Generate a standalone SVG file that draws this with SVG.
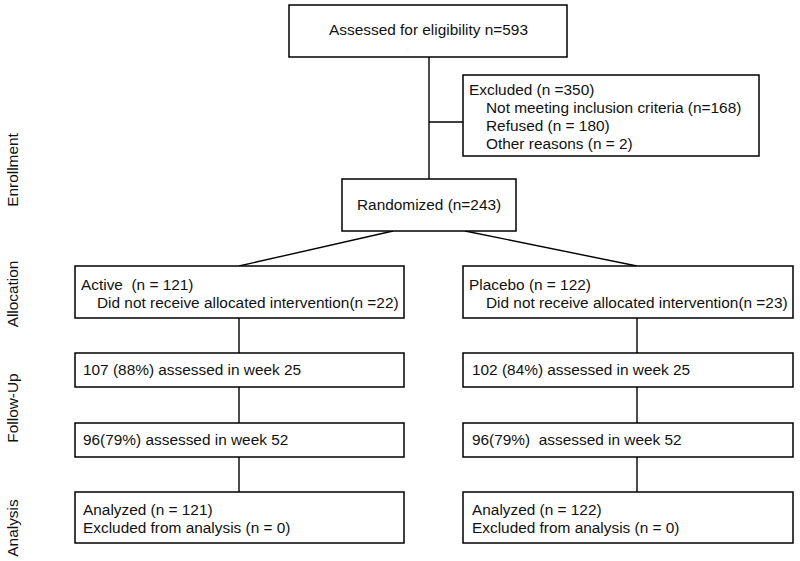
<svg xmlns="http://www.w3.org/2000/svg" width="800" height="561" viewBox="0 0 800 561">
<style>
.box{fill:#fff;stroke:#000;stroke-width:1.5}
.ln{stroke:#000;stroke-width:1.4;fill:none}
text{font-family:"Liberation Sans",Arial,sans-serif;font-size:15.4px;fill:#111}
.side{text-anchor:middle}
</style>
<rect width="800" height="561" fill="#fff"/>
<g id="connectors">
<line class="ln" x1="429" y1="57" x2="429" y2="179"/>
<line class="ln" x1="429" y1="122" x2="463" y2="122"/>
<line class="ln" x1="393" y1="231" x2="239" y2="266"/>
<line class="ln" x1="465" y1="231" x2="637" y2="266"/>
<line class="ln" x1="239" y1="318" x2="239" y2="353"/>
<line class="ln" x1="239" y1="387" x2="239" y2="423"/>
<line class="ln" x1="239" y1="457" x2="239" y2="492"/>
<line class="ln" x1="637" y1="318" x2="637" y2="353"/>
<line class="ln" x1="637" y1="387" x2="637" y2="423"/>
<line class="ln" x1="637" y1="457" x2="637" y2="492"/>
</g>
<g id="labels">
<text class="side" transform="translate(18,170) rotate(-90)">Enrollment</text>
<text class="side" transform="translate(18,294) rotate(-90)">Allocation</text>
<text class="side" transform="translate(18,408) rotate(-90)">Follow-Up</text>
<text class="side" transform="translate(18,528) rotate(-90)">Analysis</text>
</g>
<g id="assessed">
<rect class="box" x="289" y="5" width="278" height="52"/>
<text x="428.5" y="35" text-anchor="middle">Assessed for eligibility n=593</text>
<text x="407" y="50" style="font-size:6px;fill:#aaa">.</text>
</g>
<g id="excluded">
<rect class="box" x="463" y="75" width="296" height="81"/>
<text x="469" y="95">Excluded (n =350)</text>
<text x="486" y="113">Not meeting inclusion criteria (n=168)</text>
<text x="486" y="131">Refused (n = 180)</text>
<text x="486" y="149">Other reasons (n = 2)</text>
</g>
<g id="randomized">
<rect class="box" x="342" y="179" width="174" height="52"/>
<text x="357" y="210">Randomized (n=243)</text>
</g>
<g id="active">
<rect class="box" x="75" y="266" width="329" height="52"/>
<text x="81" y="290" xml:space="preserve">Active  (n = 121)</text>
<text x="97" y="308">Did not receive allocated intervention(n =22)</text>
</g>
<g id="placebo">
<rect class="box" x="463" y="266" width="330" height="52"/>
<text x="469" y="290">Placebo (n = 122)</text>
<text x="486" y="308">Did not receive allocated intervention(n =23)</text>
</g>
<g id="active-w25">
<rect class="box" x="75" y="353" width="329" height="34"/>
<text x="83" y="375">107 (88%) assessed in week 25</text>
</g>
<g id="placebo-w25">
<rect class="box" x="463" y="353" width="330" height="34"/>
<text x="472" y="375">102 (84%) assessed in week 25</text>
</g>
<g id="active-w52">
<rect class="box" x="75" y="423" width="329" height="34"/>
<text x="83" y="445">96(79%) assessed in week 52</text>
</g>
<g id="placebo-w52">
<rect class="box" x="463" y="423" width="330" height="34"/>
<text x="472" y="445" xml:space="preserve">96(79%)  assessed in week 52</text>
</g>
<g id="active-analysis">
<rect class="box" x="75" y="492" width="329" height="51"/>
<text x="83" y="515">Analyzed (n = 121)</text>
<text x="83" y="533">Excluded from analysis (n = 0)</text>
</g>
<g id="placebo-analysis">
<rect class="box" x="463" y="492" width="330" height="51"/>
<text x="472" y="515">Analyzed (n = 122)</text>
<text x="472" y="533">Excluded from analysis (n = 0)</text>
</g>
</svg>
